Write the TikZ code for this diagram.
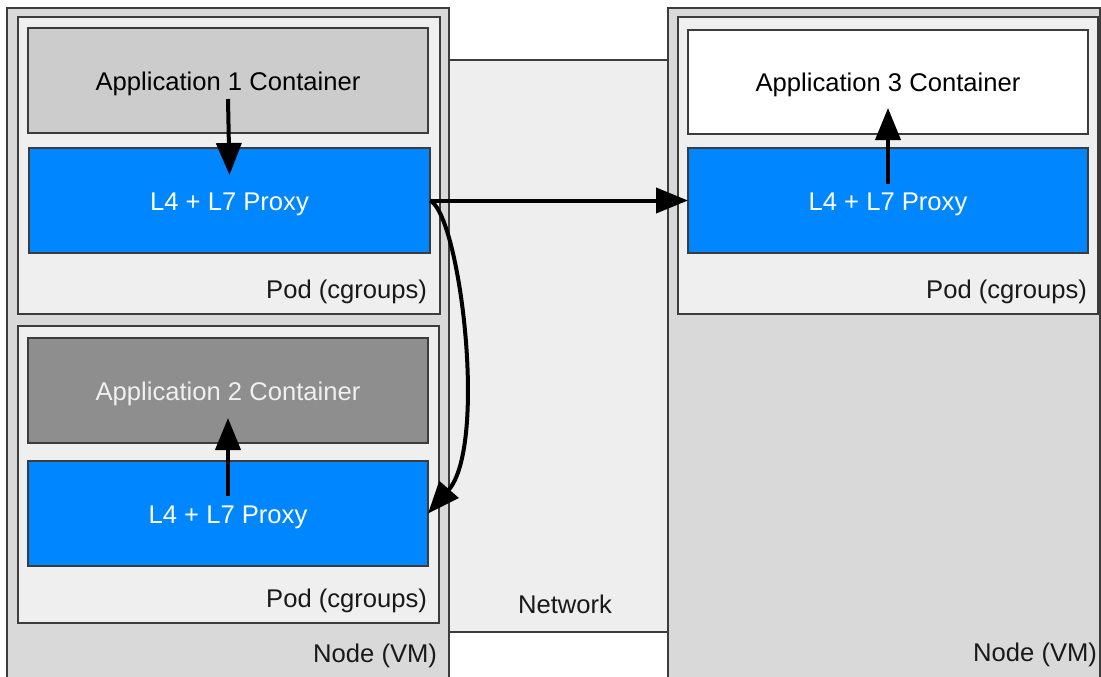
\documentclass[tikz,border=0pt]{standalone}
\usepackage{fontspec}
\setmainfont{Liberation Sans}
\usetikzlibrary{arrows.meta}

\definecolor{nodebg}{HTML}{D9D9D9}
\definecolor{podbg}{HTML}{EFEFEF}
\definecolor{netbg}{HTML}{EEEEEE}
\definecolor{appone}{HTML}{CCCCCC}
\definecolor{apptwo}{HTML}{8E8E8E}
\definecolor{proxyblue}{HTML}{0086FF}
\definecolor{edge}{HTML}{3C3C3C}

\tikzset{
  box/.style={draw=edge, line width=1.3pt, inner sep=0pt, outer sep=0pt,
              anchor=north west, font=\fontsize{25.6}{30}\selectfont,
              text height=20pt, text depth=0pt},
  vmbox/.style={box, fill=nodebg},
  podbox/.style={box, fill=podbg},
  netbox/.style={box, fill=netbg},
  appbox/.style={box, minimum width=400pt, minimum height=105pt},
  proxybox/.style={appbox, fill=proxyblue, text=white},
  lbl/.style={inner sep=0pt, outer sep=0pt, anchor=base east,
              font=\fontsize{25.6}{30}\selectfont, text=black!90},
  flow/.style={line width=4pt, -{Triangle[length=32pt,width=25pt]}}
}

\begin{document}
\begin{tikzpicture}[x=1pt,y=-1pt]
  \clip (0,0) rectangle (1101,677);
  \fill[white] (0,0) rectangle (1101,677);

  % network strip between the two VMs
  \node[netbox, minimum width=219pt, minimum height=572pt] (net) at (449,60) {};
  \node[lbl, anchor=base] (netlbl) at (565,613) {Network};

  % left VM
  \node[vmbox, minimum width=442pt, minimum height=720pt] (vm1) at (7,8) {};
  \node[podbox, minimum width=422pt, minimum height=297pt] (pod1) at (18,17) {};
  \node[appbox, fill=appone] (app1) at (28,28) {Application 1 Container};
  \node[proxybox, minimum width=401pt] (p1) at (29,148) {L4 + L7 Proxy};
  \node[lbl] (pod1lbl) at (427,298) {Pod (cgroups)};

  \node[podbox, minimum width=421pt, minimum height=297pt] (pod2) at (18,326) {};
  \node[appbox, fill=apptwo, text=white!94!black] (app2) at (28,338) {Application 2 Container};
  \node[proxybox] (p2) at (28,461) {L4 + L7 Proxy};
  \node[lbl] (pod2lbl) at (427,607) {Pod (cgroups)};
  \node[lbl] (vm1lbl) at (437,662) {Node (VM)};

  % right VM
  \node[vmbox, minimum width=432pt, minimum height=720pt] (vm2) at (668,8) {};
  \node[podbox, minimum width=420pt, minimum height=297pt] (pod3) at (678,17) {};
  \node[appbox, fill=white, minimum height=104pt] (app3) at (688,30) {Application 3 Container};
  \node[proxybox] (p3) at (688,148) {L4 + L7 Proxy};
  \node[lbl] (pod3lbl) at (1087,298) {Pod (cgroups)};
  \node[lbl] (vm2lbl) at (1097,661) {Node (VM)};

  % traffic
  \draw[flow] ([yshift=34pt]app1.south) -- ([yshift=-27pt]p1.north);
  \draw[flow] ([yshift=-35pt]p2.north) -- ([yshift=25pt]app2.south);
  \draw[flow] ([yshift=-36pt]p3.north) -- ([yshift=26pt]app3.south);
  \draw[flow] (p1.east) -- (p3.west);
  \draw[flow] (p1.east) .. controls (460,215) and (488,445) .. (p2.east);
\end{tikzpicture}
\end{document}
